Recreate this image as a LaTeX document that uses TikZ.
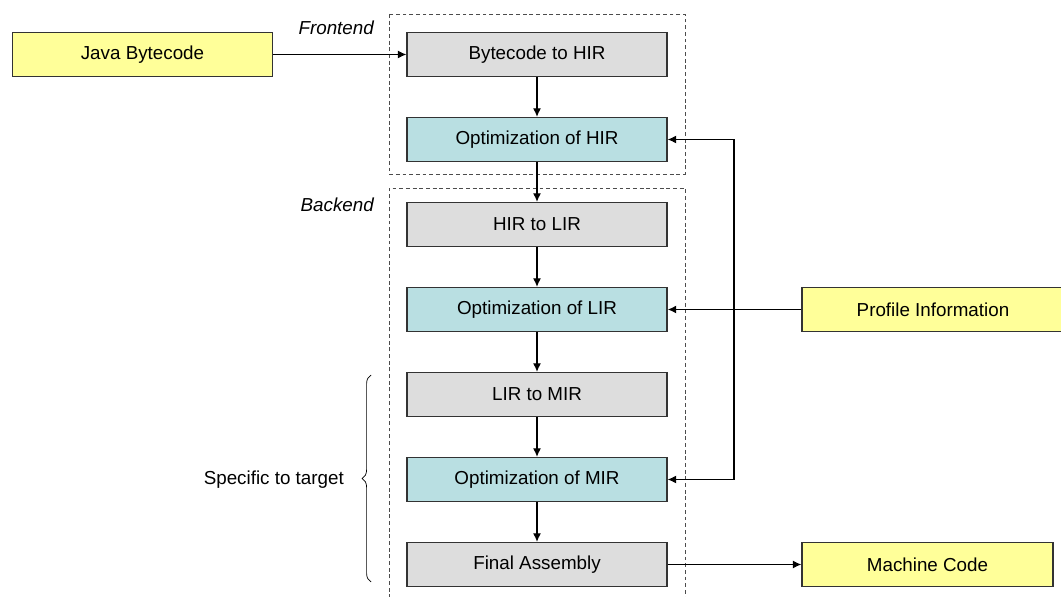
\documentclass[tikz,border=0pt]{standalone}
\usepackage{fontspec}
\setmainfont{Liberation Sans}
\usepackage{tikz}
\usetikzlibrary{decorations.pathreplacing,arrows.meta}
\definecolor{stagegray}{RGB}{221,221,221}
\definecolor{opttint}{RGB}{185,223,226}
\definecolor{ioyellow}{RGB}{255,255,153}
\definecolor{edgegray}{RGB}{51,51,51}
\tikzstyle{box}=[shape=rectangle,draw=edgegray,line width=0.8pt,minimum width=5.2cm,minimum height=0.88cm,inner sep=0pt]
\tikzstyle{stage}=[box,fill=stagegray]
\tikzstyle{opt}=[box,fill=opttint]
\tikzstyle{io}=[box,fill=ioyellow]
\tikzstyle{flow}=[-{Latex[length=1.7mm,width=1.6mm]},semithick]
\tikzstyle{frame}=[draw=black!70,dash pattern=on 2.2pt off 1.6pt,line width=0.5pt]

\begin{document}
\begin{tikzpicture}[x=0.02cm,y=-0.02cm,font=\fontsize{10.7}{13}\selectfont]
        \useasboundingbox (0,0) rectangle (1061,597);
        % frames
        \draw[frame] (389,14) rectangle (685,174);
        \draw[frame] (389,605) -- (389,188) -- (685,188) -- (685,605);
        \node[anchor=east,font=\fontsize{10.7}{13}\selectfont\itshape] (fe) at (380,28) {Frontend};
        \node[anchor=east,font=\fontsize{10.7}{13}\selectfont\itshape] (be) at (380,205) {Backend};

        % pipeline
        \node[io] (jb) at (142.5,54.5) {Java Bytecode};
        \node[stage] (b2h) at (537,54.5) {Bytecode to HIR};
        \node[opt] (oh) at (537,139.5) {Optimization of HIR};
        \node[stage] (h2l) at (537,224.5) {HIR to LIR};
        \node[opt] (ol) at (537,309.5) {Optimization of LIR};
        \node[stage] (l2m) at (537,394.5) {LIR to MIR};
        \node[opt] (om) at (537,479.5) {Optimization of MIR};
        \node[stage] (fa) at (537,564.5) {Final Assembly};
        \node[io,minimum width=5.24cm] (pi) at (933,309.5) {Profile Information};
        \node[io,minimum width=5.02cm] (mc) at (927.5,564.5) {Machine Code};
        \coordinate (fb) at (734,309.5);

        \draw[flow] (jb) -- (b2h);
        \draw[flow] (b2h) -- (oh);
        \draw[flow] (oh) -- (h2l);
        \draw[flow] (h2l) -- (ol);
        \draw[flow] (ol) -- (l2m);
        \draw[flow] (l2m) -- (om);
        \draw[flow] (om) -- (fa);
        \draw[flow] (fa) -- (mc);
        \draw[flow,thick] (pi) -- (ol);
        \draw[flow] (fb) |- (oh);
        \draw[flow] (fb) |- (om);

        % target part
        \draw[decorate,decoration={brace,amplitude=5pt}] (371,582) -- (371,375);
        \node[anchor=east] (st) at (350,480) {Specific to target};
    \end{tikzpicture}
\end{document}
